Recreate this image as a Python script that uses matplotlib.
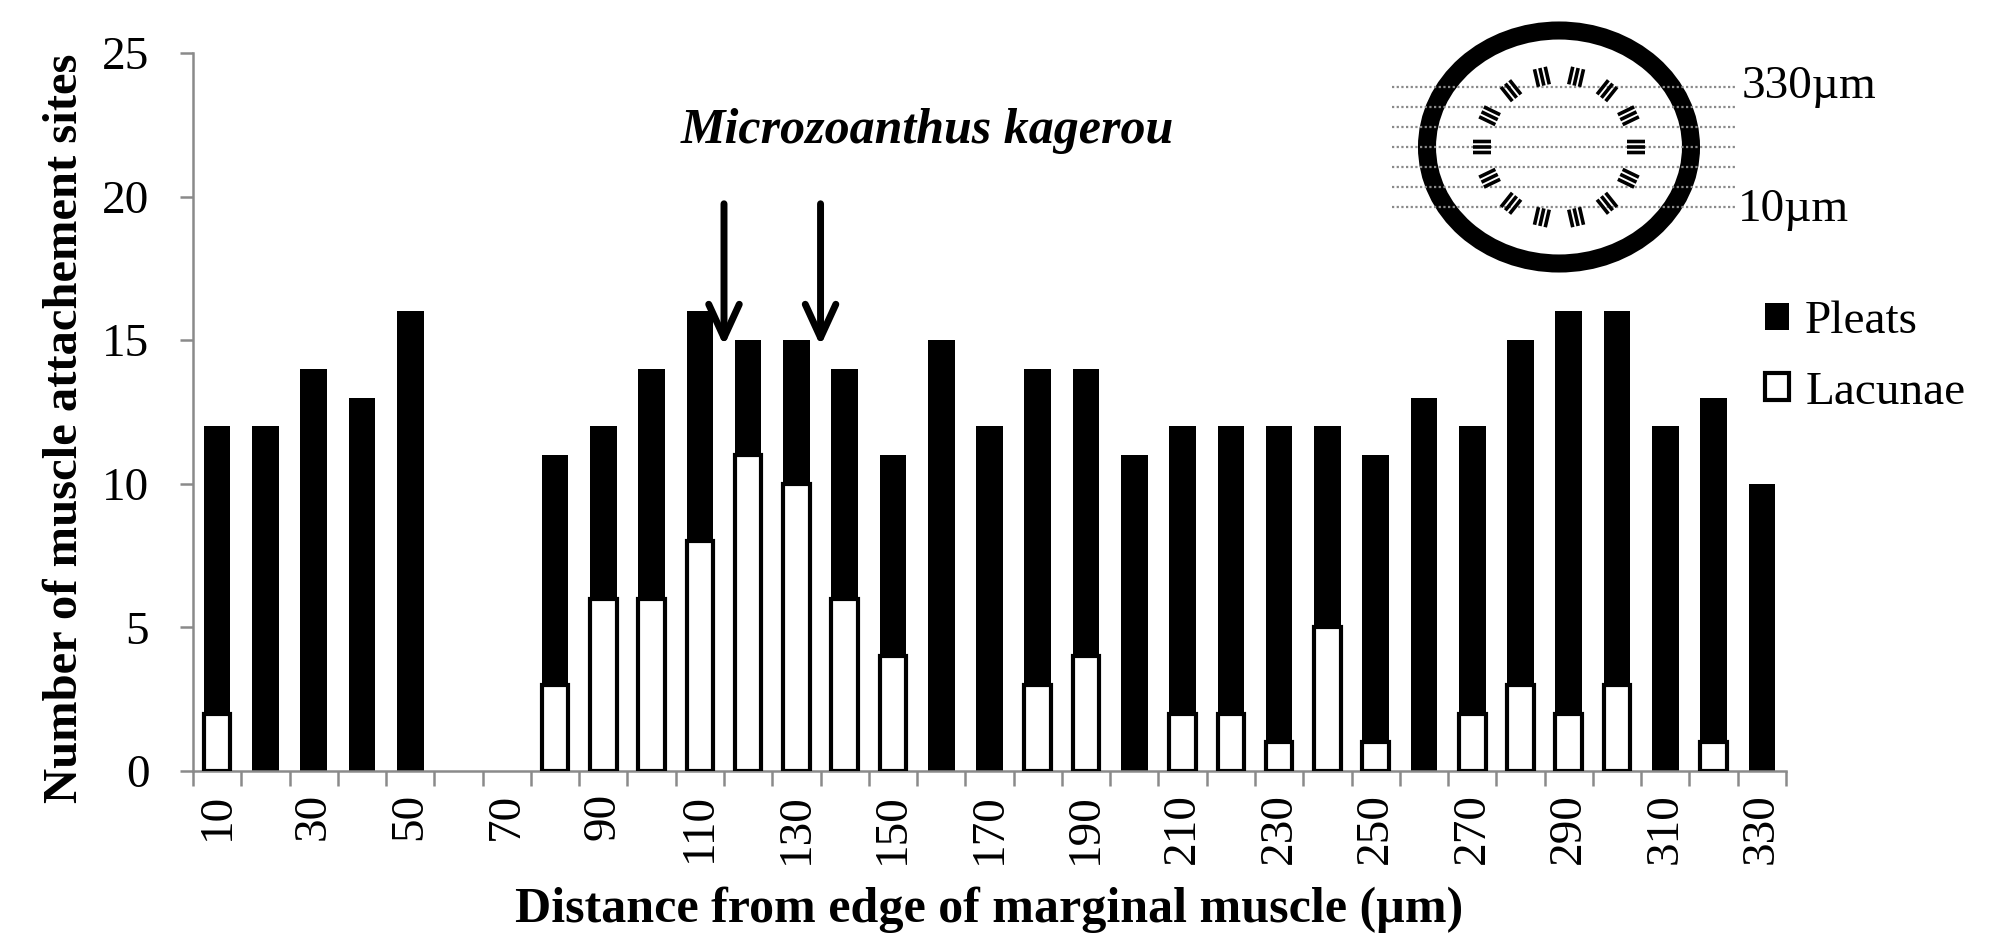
import numpy as np
import matplotlib
matplotlib.use("Agg")
import matplotlib.pyplot as plt
from matplotlib.patches import Ellipse

plt.rcParams["font.family"] = ["Liberation Serif", "DejaVu Serif"]

# data
distance = [10, 20, 30, 40, 50, 60, 70, 80, 90, 100, 110, 120, 130, 140, 150, 160, 170,
            180, 190, 200, 210, 220, 230, 240, 250, 260, 270, 280, 290, 300, 310, 320, 330]
pleats = [12, 12, 14, 13, 16, 0, 0, 11, 12, 14, 16, 15, 15, 14, 11, 15, 12,
          14, 14, 11, 12, 12, 12, 12, 11, 13, 12, 15, 16, 16, 12, 13, 10]
lacunae = [2, 0, 0, 0, 0, 0, 0, 3, 6, 6, 8, 11, 10, 6, 4, 0, 0,
           3, 4, 0, 2, 2, 1, 5, 1, 0, 2, 3, 2, 3, 0, 1, 0]
arrow_at = [115, 135]  # um, marked positions
arrow_from, arrow_to = 19.75, 14.8

W, H = 2007, 948
fig = plt.figure(figsize=(W / 100, H / 100), dpi=100)
ax = fig.add_axes([193 / W, 1 - 771 / H, (1786 - 193) / W, (771 - 53) / H])

x = np.arange(len(distance))
lac = np.array(lacunae)
has_lac = lac > 0
ax.bar(x, pleats, width=0.55, color="black", label="Pleats", zorder=2)
ax.bar(x[has_lac], lac[has_lac], width=0.55, color="white", edgecolor="black",
       linewidth=3, label="Lacunae", zorder=3)

ax.set_xlim(-0.5, len(distance) - 0.5)
ax.set_ylim(0, 25)
ax.set_yticks([0, 5, 10, 15, 20, 25])
ax.set_xticks(x[::2])
ax.set_xticklabels([str(d) for d in distance[::2]], rotation=90)
ax.set_xticks(np.arange(-0.5, len(distance), 1), minor=True)

grey = "#8a8a8a"
for s in ["top", "right"]:
    ax.spines[s].set_visible(False)
for s in ["left", "bottom"]:
    ax.spines[s].set_color(grey)
    ax.spines[s].set_linewidth(1.8)
ax.tick_params(axis="x", which="major", length=0, pad=16, labelsize=34)
ax.tick_params(axis="x", which="minor", length=11, width=1.8, color=grey)
ax.tick_params(axis="y", length=9.5, width=1.8, color=grey, pad=22, labelsize=34)

# arrows
for a in arrow_at:
    xi = (a - distance[0]) / (distance[1] - distance[0])
    ax.annotate("", xy=(xi, arrow_to), xytext=(xi, arrow_from),
                arrowprops=dict(arrowstyle="->,head_length=2.4,head_width=1.1",
                                lw=5, color="black", shrinkA=0, shrinkB=0,
                                mutation_scale=10),
                zorder=5)

# texts
fig.text(927 / W, 1 - 143 / H, "Microzoanthus kagerou", ha="center", va="baseline",
         fontsize=36, fontweight="bold", fontstyle="italic")
fig.text(65 / W, 1 - 428 / H, "Number of muscle attachement sites", rotation=90,
         ha="center", va="center", fontsize=35, fontweight="bold")
fig.text(989 / W, 1 - 922 / H, "Distance from edge of marginal muscle (µm)",
         ha="center", va="baseline", fontsize=36, fontweight="bold")

fig.legend(loc="center left", bbox_to_anchor=(1765 / W, 1 - 357 / H), frameon=False,
           fontsize=34, handlelength=0.5, handleheight=0.5, handletextpad=0.35,
           labelspacing=0.6, borderpad=0, borderaxespad=0)

# schematic of the section levels
ins = fig.add_axes([1380 / W, 1 - 300 / H, 500 / W, 300 / H])
ins.set_xlim(1380, 1880)
ins.set_ylim(300, 0)
ins.axis("off")
ins.add_patch(Ellipse((1559, 147), 264, 233, fill=False, lw=13, color="black"))
for yy in np.arange(87, 208, 20):
    ins.plot([1392, 1737], [yy, yy], color=grey, lw=1.6, ls=(0, (1, 1.1)), zorder=3)
for k in range(14):
    th = np.deg2rad(12.86 + k * 360 / 14)
    cx, cy = 1559 + 77 * np.sin(th), 147 - 72 * np.cos(th)
    rx, ry = np.sin(th), -np.cos(th)
    tx, ty = np.cos(th), np.sin(th)
    for off in (-5.5, 0, 5.5):
        px, py = cx + off * tx, cy + off * ty
        ins.plot([px - 9 * rx, px + 9 * rx], [py - 9 * ry, py + 9 * ry],
                 color="black", lw=2.6, solid_capstyle="butt", zorder=4)
ins.text(1742, 87, "330µm", ha="left", va="center", fontsize=34)
ins.text(1738, 210, "10µm", ha="left", va="center", fontsize=34)

fig.savefig("out.png", dpi=100, facecolor="white")
